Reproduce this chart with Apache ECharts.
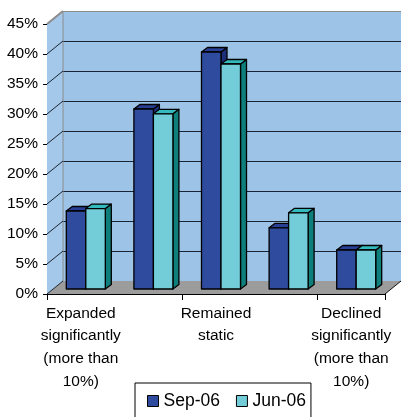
<!DOCTYPE html>
<html>
<head>
<meta charset="utf-8">
<script src="https://cdn.jsdelivr.net/npm/echarts@6/dist/echarts.min.js"></script>
<style>
  html, body { margin: 0; padding: 0; background: #fff; }
  #chart { width: 401px; height: 417px; }
</style>
</head>
<body>
<div id="chart"></div>
<script>
const categories = [
  'Expanded\nsignificantly\n(more than\n10%)',
  'Expanded\nslightly',
  'Remained\nstatic',
  'Declined\nslightly',
  'Declined\nsignificantly\n(more than\n10%)',
]
const seriesNames = ['Sep-06', 'Jun-06']
const sep06 = [13, 30, 39.5, 10.2, 6.5]
const jun06 = [13.4, 29.2, 37.5, 12.7, 6.5]
const yTicks = [0, 5, 10, 15, 20, 25, 30, 35, 40, 45]

const font = 'Arial, "Liberation Sans", sans-serif'
// 3d look: depth of the box and of each bar
const depthX = 16
const depthY = -13
const barShiftX = 5
const barShiftY = -5
const barW = 19.5
const barDX = 6
const barDY = -4.5

const palette = [
  { front: '#2E4B9E', top: '#283F94', side: '#1E2F7A' },
  { front: '#72CDD9', top: '#33BABD', side: '#0F7F7B' },
]

const chart = echarts.init(document.getElementById('chart'))

function wallsItem(params, api) {
  const cs = params.coordSys
  const v = api.value(1)
  const y = api.coord([0, v])[1]
  const children = []
  if (params.dataIndex === 0) {
    const x0 = cs.x
    const y0 = cs.y
    const x1 = cs.x + cs.width
    const yb = cs.y + cs.height
    children.push({
      type: 'polygon',
      shape: { points: [[x0, y0], [x0 + depthX, y0 + depthY], [x0 + depthX, yb + depthY], [x0, yb]] },
      style: { fill: '#A4C8EA' },
    })
    children.push({
      type: 'polygon',
      shape: { points: [[x0, yb], [x0 + depthX, yb + depthY], [x1 + depthX, yb + depthY], [x1, yb]] },
      style: { fill: '#9C9C9C' },
    })
    children.push({
      type: 'line',
      shape: { x1: x0 + depthX, y1: y0 + depthY, x2: x0 + depthX, y2: yb + depthY },
      style: { stroke: '#8C8C8C', lineWidth: 1 },
    })
    children.push({
      type: 'line',
      shape: { x1: x1, y1: yb, x2: x1 + depthX, y2: yb + depthY },
      style: { stroke: '#111', lineWidth: 1 },
    })
  }
  children.push({
    type: 'line',
    shape: { x1: cs.x, y1: y, x2: cs.x + depthX, y2: y + depthY },
    style: { stroke: v === 45 ? '#8C8C8C' : '#1b2433', lineWidth: v === 45 ? 2 : 1 },
  })
  return { type: 'group', children }
}

function barItem(sIdx) {
  return (params, api) => {
    const idx = api.value(0)
    const val = api.value(1)
    const c = api.coord([idx, val])
    const b = api.coord([idx, 0])
    const x0 = c[0] - barW + sIdx * barW + barShiftX
    const x1 = x0 + barW
    const top = c[1] + barShiftY
    const bot = b[1] + barShiftY
    const col = palette[sIdx]
    const stroke = { stroke: '#000', lineWidth: 1.3, lineJoin: 'round' }
    return {
      type: 'group',
      children: [
        {
          type: 'polygon',
          shape: { points: [[x1, top], [x1 + barDX, top + barDY], [x1 + barDX, bot + barDY], [x1, bot]] },
          style: Object.assign({ fill: col.side }, stroke),
        },
        {
          type: 'polygon',
          shape: { points: [[x0, top], [x0 + barDX, top + barDY], [x1 + barDX, top + barDY], [x1, top]] },
          style: Object.assign({ fill: col.top }, stroke),
        },
        {
          type: 'rect',
          shape: { x: x0, y: top, width: barW, height: bot - top },
          style: Object.assign({ fill: col.front }, stroke),
        },
      ],
    }
  }
}

const option = {
  animation: false,
  grid: [
    { left: 47, top: 24, right: 16, bottom: 123 },
    {
      left: 47 + depthX, top: 24 + depthY, right: 0, bottom: 123 - depthY,
      show: true, backgroundColor: '#9DC3E6', borderWidth: 0,
    },
  ],
  legend: {
    left: 135,
    top: 383,
    padding: [9, 5, 12, 12],
    itemWidth: 11,
    itemHeight: 11,
    itemGap: 16,
    borderColor: '#000',
    borderWidth: 1,
    textStyle: { fontFamily: font, fontSize: 17.5, color: '#000' },
    data: seriesNames.map((name, i) => ({
      name,
      icon: 'rect',
      itemStyle: { color: palette[i].front, borderColor: '#000', borderWidth: 1 },
    })),
  },
  xAxis: [
    {
      type: 'category',
      gridIndex: 0,
      data: categories,
      axisLine: { lineStyle: { color: '#000', width: 1 } },
      axisTick: { show: true, length: 6, lineStyle: { color: '#000' } },
      axisLabel: {
        interval: 1,
        margin: 8,
        color: '#000',
        fontFamily: font,
        fontSize: 15.5,
        lineHeight: 22.7,
      },
      splitLine: { show: false },
    },
    {
      type: 'category',
      gridIndex: 1,
      data: categories,
      show: false,
    },
  ],
  yAxis: [
    {
      type: 'value',
      gridIndex: 0,
      min: 0,
      max: 45,
      interval: 5,
      axisLine: { show: true, lineStyle: { color: '#000', width: 1 } },
      axisTick: { show: true, length: 4, lineStyle: { color: '#000' } },
      axisLabel: {
        formatter: '{value}%',
        margin: 9,
        color: '#000',
        fontFamily: font,
        fontSize: 15.5,
      },
      splitLine: { show: false },
    },
    {
      type: 'value',
      gridIndex: 1,
      min: 0,
      max: 45,
      interval: 5,
      axisLine: { show: false },
      axisTick: { show: false },
      axisLabel: { show: false },
      splitLine: {
        show: true,
        lineStyle: {
          color: yTicks.map((v) => (v === 45 ? '#8C8C8C' : '#1b2433')),
          width: 1,
        },
      },
    },
  ],
  series: [
    {
      type: 'custom',
      name: 'walls',
      xAxisIndex: 0,
      yAxisIndex: 0,
      silent: true,
      z: 1,
      renderItem: wallsItem,
      data: yTicks.map((v) => [0, v]),
    },
    {
      type: 'custom',
      name: seriesNames[0],
      xAxisIndex: 0,
      yAxisIndex: 0,
      z: 3,
      itemStyle: { color: palette[0].front },
      renderItem: barItem(0),
      data: sep06.map((v, i) => [i, v]),
    },
    {
      type: 'custom',
      name: seriesNames[1],
      xAxisIndex: 0,
      yAxisIndex: 0,
      z: 4,
      itemStyle: { color: palette[1].front },
      renderItem: barItem(1),
      data: jun06.map((v, i) => [i, v]),
    },
  ],
}

chart.setOption(option)
</script>
</body>
</html>
